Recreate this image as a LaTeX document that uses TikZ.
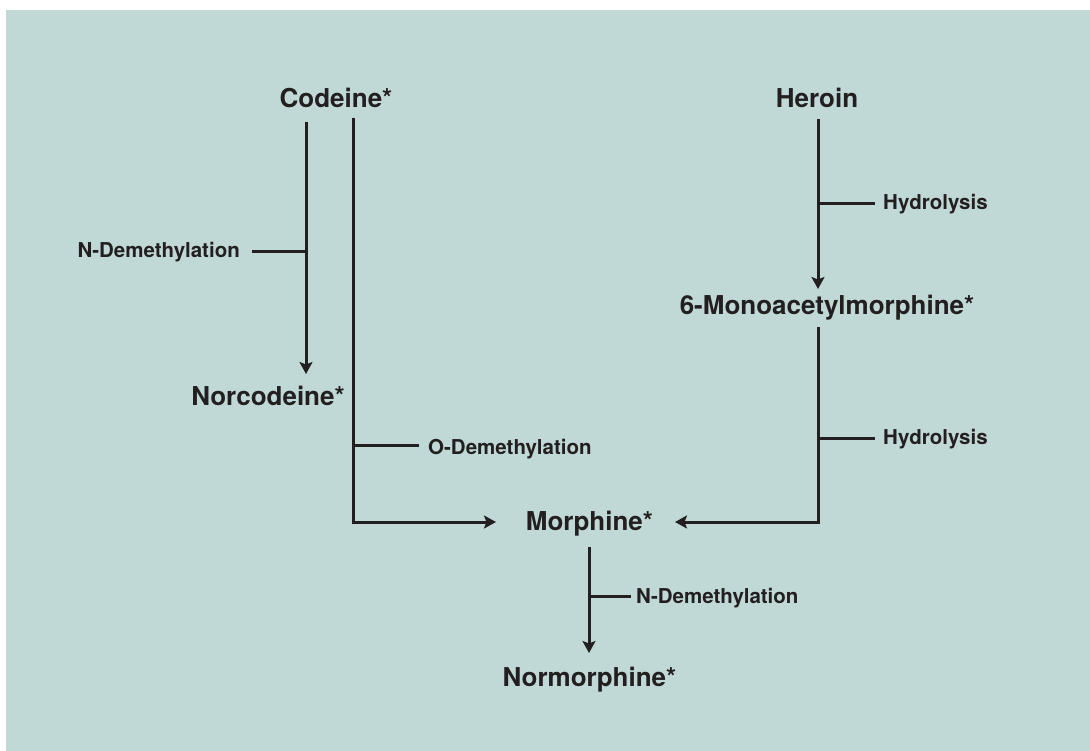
\documentclass[tikz,border=0pt]{standalone}
\usepackage{fontspec}
\setmainfont{TeX Gyre Heros}
\usetikzlibrary{arrows.meta}
\definecolor{bgteal}{RGB}{192,217,214}
\definecolor{ink}{RGB}{35,31,32}
\tikzset{
  big/.style={font=\fontsize{26}{30}\selectfont\bfseries, text=ink, inner sep=0pt, anchor=base},
  small/.style={font=\fontsize{20.5}{24}\selectfont\bfseries, text=ink, inner sep=0pt, anchor=base west},
  link/.style={draw=ink, line width=3pt, line join=miter},
  arr/.style={link, -{Stealth[length=12pt,width=13pt,inset=2.5pt]}}
}
\begin{document}
\begin{tikzpicture}[x=1pt,y=-1pt]
\useasboundingbox (0,0) rectangle (1090,751);
\fill[white] (0,0) rectangle (1090,751);
\fill[bgteal] (6,10) rectangle (1090,751);

% compounds
\node[big] (codeine) at (336,108) {Codeine*};
\node[big] (heroin) at (817,108) {Heroin};
\node[big] (norcodeine) at (268,406) {Norcodeine*};
\node[big] (mam) at (827,315) {6-Monoacetylmorphine*};
\node[big] (morphine) at (589.5,530) {Morphine*};
\node[big] (normorphine) at (589.5,686) {Normorphine*};

% reaction labels
\node[small, anchor=base east] (nd1) at (240,258) {N-Demethylation};
\node[small] (hy1) at (883,210) {Hydrolysis};
\node[small] (od) at (428,454) {O-Demethylation};
\node[small] (hy2) at (883,444) {Hydrolysis};
\node[small] (nd2) at (636,603) {N-Demethylation};

% anchor points of connectors
\coordinate (cA) at (306,122);
\coordinate (cAend) at (306,374);
\coordinate (cAtick) at (306,252);
\coordinate (cB) at (353,118);
\coordinate (cBcorner) at (353,522);
\coordinate (cBend) at (496,522);
\coordinate (cBtick) at (353,445);
\coordinate (hA) at (818,119);
\coordinate (hAend) at (818,289);
\coordinate (hAtick) at (818,204);
\coordinate (mB) at (818,327);
\coordinate (mBcorner) at (818,522);
\coordinate (mBend) at (675,522);
\coordinate (mBtick) at (818,438);
\coordinate (moA) at (589,547);
\coordinate (moAend) at (589,653);
\coordinate (moAtick) at (589,596);

% main arrows
\draw[arr] (cA) -- (cAend);
\draw[arr] (cB) -- (cBcorner) -- (cBend);
\draw[arr] (hA) -- (hAend);
\draw[arr] (mB) -- (mBcorner) -- (mBend);
\draw[arr] (moA) -- (moAend);

% ticks to labels
\draw[link] (cAtick) -- ++(-54,0);
\draw[link] (cBtick) -- ++(66,0);
\draw[link] (hAtick) -- ++(57,0);
\draw[link] (mBtick) -- ++(57,0);
\draw[link] (moAtick) -- ++(42,0);
\end{tikzpicture}
\end{document}
